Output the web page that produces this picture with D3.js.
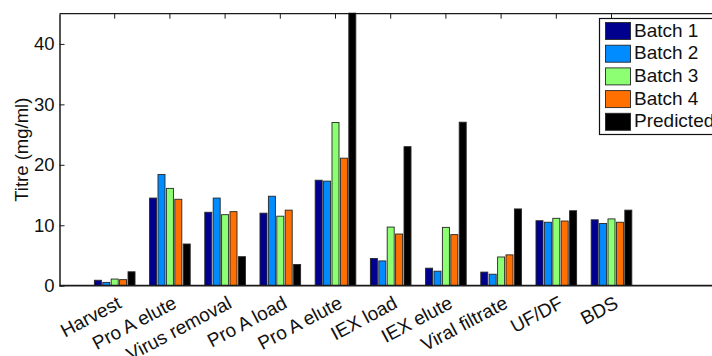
<!DOCTYPE html>
<html>
<head>
<meta charset="utf-8">
<script src="https://cdn.jsdelivr.net/npm/d3@7"></script>
<style>
  html, body { margin: 0; padding: 0; background: #fff; }
  svg { display: block; font-family: "Liberation Sans", Arial, Helvetica, sans-serif; }
</style>
</head>
<body>
<svg id="chart" width="712" height="356"></svg>
<script>
// Process steps along the x axis
const categories = ["Harvest", "Pro A elute", "Virus removal", "Pro A load", "Pro A elute",
                    "IEX load", "IEX elute", "Viral filtrate", "UF/DF", "BDS"];

// Titre per step for each batch and the predicted value (mg/ml)
const batch1    = [0.9, 14.5, 12.15, 12.0, 17.45, 4.5, 2.9, 2.25, 10.75, 10.9];
const batch2    = [0.55, 18.4, 14.5, 14.8, 17.3, 4.1, 2.4, 1.9, 10.5, 10.3];
const batch3    = [1.1, 16.1, 11.75, 11.5, 27.0, 9.7, 9.65, 4.75, 11.15, 11.05];
const batch4    = [1.0, 14.3, 12.25, 12.5, 21.1, 8.55, 8.45, 5.1, 10.7, 10.5];
const predicted = [2.3, 6.9, 4.8, 3.5, 46, 23.0, 27.05, 12.7, 12.4, 12.5];

const seriesNames = ["Batch 1", "Batch 2", "Batch 3", "Batch 4", "Predicted"];
const seriesValues = [batch1, batch2, batch3, batch4, predicted];
const seriesColors = ["#00008f", "#008cff", "#8cff73", "#ff7000", "#000000"];

const yTicks = [0, 10, 20, 30, 40];

const svg = d3.select("#chart");
const margin = { left: 59.5, top: 13.7, bottom: 285.7 };
const xMax = 12;
const unit = 55.2;

const x = d3.scaleLinear().domain([0, xMax]).range([margin.left, margin.left + xMax * unit]);
const y = d3.scaleLinear().domain([0, 45]).range([margin.bottom, margin.top]);
const inner = d3.scaleBand().domain(d3.range(seriesNames.length)).range([-0.368, 0.368]).paddingInner(0.167);

// clip region for bars that run past the top of the axes
svg.append("defs").append("clipPath").attr("id", "plotclip")
  .append("rect")
  .attr("x", margin.left).attr("y", margin.top - 1)
  .attr("width", 800).attr("height", margin.bottom - margin.top + 1);

// axis box lines
const axisColor = "#1a1a1a";
svg.append("line").attr("x1", margin.left).attr("x2", 712).attr("y1", margin.top).attr("y2", margin.top)
  .attr("stroke", axisColor).attr("stroke-width", 1.3);

// tick marks on top and bottom axes (inward)
const catIdx = d3.range(1, categories.length + 1);
svg.append("g").selectAll("line").data(catIdx).join("line")
  .attr("x1", d => x(d)).attr("x2", d => x(d))
  .attr("y1", margin.top).attr("y2", margin.top + 5)
  .attr("stroke", axisColor).attr("stroke-width", 1);
svg.append("g").selectAll("line").data(catIdx).join("line")
  .attr("x1", d => x(d)).attr("x2", d => x(d))
  .attr("y1", margin.bottom).attr("y2", margin.bottom - 5)
  .attr("stroke", axisColor).attr("stroke-width", 1);

// bars
const barsG = svg.append("g").attr("clip-path", "url(#plotclip)");
seriesValues.forEach((vals, s) => {
  barsG.append("g").selectAll("rect").data(vals).join("rect")
    .attr("x", (d, i) => x(i + 1 + inner(s)))
    .attr("width", x(inner.bandwidth()) - x(0))
    .attr("y", d => y(d))
    .attr("height", d => y(0) - y(d))
    .attr("fill", seriesColors[s])
    .attr("stroke", "#262626")
    .attr("stroke-width", 0.9);
});

// left axis with inward ticks
const yAxis = d3.axisLeft(y).tickValues(yTicks).tickSizeInner(-5).tickSizeOuter(0).tickPadding(5);
const gy = svg.append("g").attr("transform", `translate(${margin.left},0)`).call(yAxis);
gy.select(".domain").attr("stroke", axisColor).attr("stroke-width", 1.5);
gy.selectAll(".tick line").attr("stroke", axisColor);
gy.selectAll(".tick text").attr("font-size", 18.5).attr("fill", "#111")
  .attr("font-family", "'Liberation Sans', Arial, sans-serif");

// bottom axis line
svg.append("line").attr("x1", margin.left).attr("x2", 712).attr("y1", margin.bottom).attr("y2", margin.bottom)
  .attr("stroke", axisColor).attr("stroke-width", 1.8);

// rotated category labels
svg.append("g").selectAll("text").data(categories).join("text")
  .attr("transform", (d, i) => `translate(${x(i + 1) + 8},307) rotate(-28)`)
  .attr("text-anchor", "end")
  .attr("font-size", 19)
  .attr("fill", "#111")
  .text(d => d);

// y axis title
svg.append("text")
  .attr("transform", `translate(28,${(margin.top + margin.bottom) / 2}) rotate(-90)`)
  .attr("text-anchor", "middle")
  .attr("font-size", 18.5)
  .attr("fill", "#111")
  .text("Titre (mg/ml)");

// legend
const legend = svg.append("g").attr("transform", "translate(599,18)");
legend.append("rect").attr("x", 0.5).attr("y", 0.5).attr("width", 140).attr("height", 116)
  .attr("fill", "#fff").attr("stroke", "#111").attr("stroke-width", 1.2);
const rows = legend.selectAll("g.row").data(seriesNames).join("g")
  .attr("transform", (d, i) => `translate(0,${4 + i * 22.7})`);
rows.append("rect").attr("x", 6.5).attr("y", 0.5).attr("width", 25).attr("height", 17)
  .attr("fill", (d, i) => seriesColors[i]).attr("stroke", "#262626").attr("stroke-width", 0.9);
rows.append("text").attr("x", 35).attr("y", 14.5).attr("font-size", 19).attr("fill", "#111")
  .text(d => d);
</script>
</body>
</html>
